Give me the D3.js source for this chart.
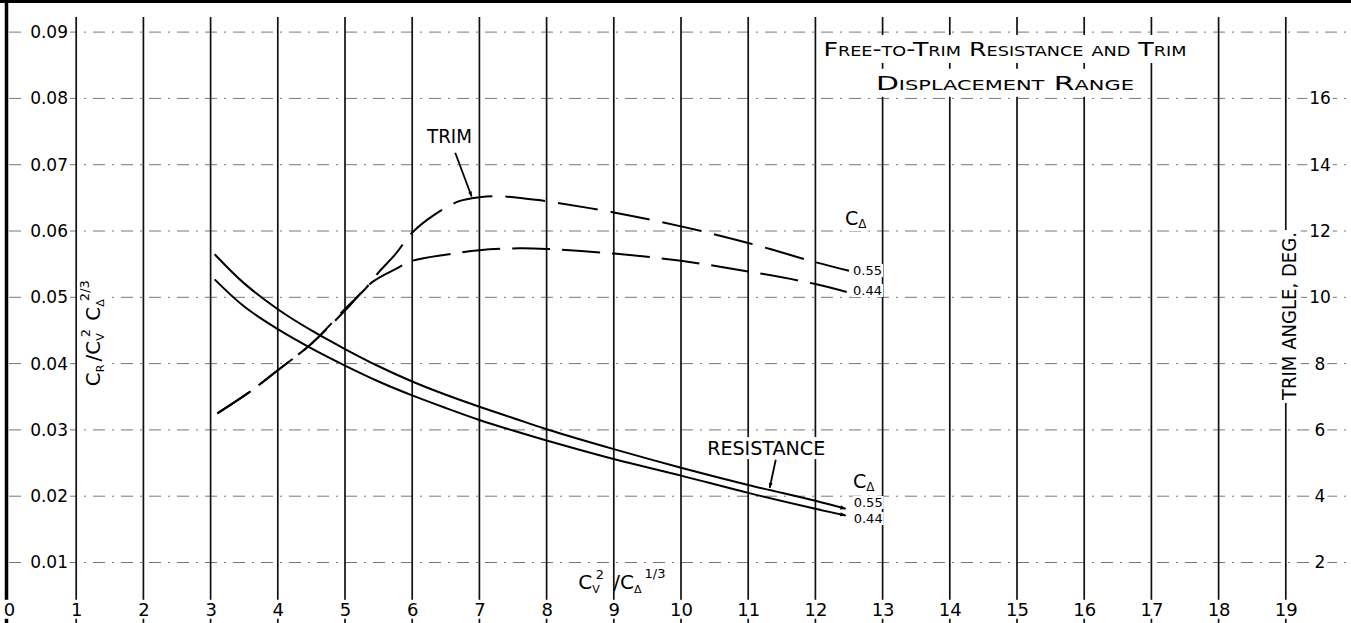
<!DOCTYPE html>
<html><head><meta charset="utf-8">
<script src="https://cdn.jsdelivr.net/npm/d3@7"></script>
<style>
html,body{margin:0;padding:0;background:#fff;overflow:hidden;}
svg{display:block;font-family:"DejaVu Sans",sans-serif;}
</style></head><body>
<svg id="chart" width="1351" height="623"></svg>
<script>
// ---- data ----
const xTicks = d3.range(0, 20);                       // Cv^2 / CΔ^(1/3)
const resTicks = [0.01,0.02,0.03,0.04,0.05,0.06,0.07,0.08,0.09];
const trimTicks = [2,4,6,8,10,12,14,16];               // trim angle, deg

const resX   = [3.06, 3.5, 4, 4.5, 5, 5.5, 6, 6.5, 7, 7.5, 8, 9, 10, 11, 12, 12.45];
const res055 = [0.0565,0.0521,0.0482,0.0450,0.0422,0.0396,0.0373,0.0353,0.0335,0.0318,0.0301,0.0271,0.0243,0.0217,0.0193,0.0181];
const res044 = [0.0527,0.0486,0.0452,0.0423,0.0397,0.0373,0.0352,0.0333,0.0315,0.0299,0.0284,0.0256,0.0231,0.0205,0.0181,0.0171];

const trimX055 = [3.1, 3.55, 4, 4.5, 5, 5.3, 5.5, 5.75, 6, 6.3, 6.7, 7, 7.3, 7.8, 8, 9, 10, 11, 12, 12.5];
const trim055  = [6.5, 7.1, 7.8, 8.6, 9.65, 10.25, 10.75, 11.3, 11.95, 12.45, 12.9, 13.02, 13.05, 12.95, 12.9, 12.56, 12.14, 11.64, 11.06, 10.8];
const trimX044 = [3.1, 3.55, 4, 4.5, 5, 5.4, 5.75, 6, 6.55, 7, 7.6, 8, 9, 10, 11, 12, 12.5];
const trim044  = [6.5, 7.1, 7.8, 8.6, 9.6, 10.45, 10.85, 11.1, 11.3, 11.42, 11.48, 11.46, 11.32, 11.1, 10.78, 10.4, 10.14];

const titleLines = ["Free-to-Trim Resistance and Trim", "Displacement Range"];
const seriesLabels = ["0.55", "0.44"];

// ---- layout ----
const W = 1351, H = 623;
const svg = d3.select("#chart");
const x  = d3.scaleLinear().domain([0, 20]).range([9, 1353]);
const y  = d3.scaleLinear().domain([0, 0.09]).range([628.8, 32.1]);
const yT = d3.scaleLinear().domain([0, 18]).range([628.8, 32.1]);

svg.append("rect").attr("width", W).attr("height", H).attr("fill", "#fff");

// horizontal dash-dot grid
svg.append("g").selectAll("line").data(resTicks).join("line")
  .attr("x1", x(0)).attr("x2", W)
  .attr("y1", d => y(d)).attr("y2", d => y(d))
  .attr("stroke", "#777").attr("stroke-width", 1)
  .attr("stroke-dasharray", "12,7,2,7");

// vertical solid grid
svg.append("g").selectAll("line").data(xTicks.filter(d => d > 0)).join("line")
  .attr("x1", d => x(d)).attr("x2", d => x(d))
  .attr("y1", 17).attr("y2", H)
  .attr("stroke", "#111").attr("stroke-width", 1.7);

// frame
svg.append("line").attr("x1", x(0) - 2.5).attr("x2", x(0) - 2.5).attr("y1", 0).attr("y2", H)
  .attr("stroke", "#000").attr("stroke-width", 3.5);
svg.append("line").attr("x1", 0).attr("x2", W).attr("y1", 1.5).attr("y2", 1.5)
  .attr("stroke", "#000").attr("stroke-width", 3);

// markers
const defs = svg.append("defs");
defs.append("marker").attr("id", "arr").attr("viewBox", "0 0 10 10").attr("refX", 9).attr("refY", 5)
  .attr("markerWidth", 3.5).attr("markerHeight", 3).attr("orient", "auto")
  .attr("markerUnits", "strokeWidth")
  .append("path").attr("d", "M0,1.5 L10,5 L0,8.5 z").attr("fill", "#000");

// curves
const lineR = d3.line().x(d => x(d[0])).y(d => y(d[1])).curve(d3.curveCatmullRom.alpha(0.5));
const lineT = d3.line().x(d => x(d[0])).y(d => yT(d[1])).curve(d3.curveCatmullRom.alpha(0.5));
const curves = svg.append("g").attr("fill", "none").attr("stroke", "#000");
[res055, res044].forEach(arr => {
  curves.append("path").attr("d", lineR(resX.map((v, i) => [v, arr[i]])))
    .attr("stroke-width", 2).attr("marker-end", "url(#arr)");
});
curves.append("path").attr("d", lineT(trimX055.map((v, i) => [v, trim055[i]])))
  .attr("stroke-width", 2).attr("stroke-dasharray", "40,13");
curves.append("path").attr("d", lineT(trimX044.map((v, i) => [v, trim044[i]])))
  .attr("stroke-width", 2).attr("stroke-dasharray", "38,12");

// white box behind each text node
function boxEach(sel, padX, padY) {
  sel.each(function() {
    const bb = this.getBBox();
    const tr = this.getAttribute("transform");
    const r = d3.select(this.parentNode).insert("rect", () => this)
      .attr("x", bb.x - padX).attr("y", bb.y - padY)
      .attr("width", bb.width + 2 * padX).attr("height", bb.height + 2 * padY).attr("fill", "#fff");
    if (tr) r.attr("transform", tr);
  });
}

// left axis
const gl = svg.append("g").attr("transform", `translate(68,0)`)
  .call(d3.axisLeft(y).tickValues(resTicks).tickSize(0).tickPadding(0).tickFormat(d3.format(".2f")));
gl.select(".domain").remove();
gl.selectAll("text").attr("font-size", 17).attr("font-family", "DejaVu Sans").attr("fill", "#000");
boxEach(gl.selectAll("text"), 2, -1);

// bottom axis
const gb = svg.append("g").attr("transform", `translate(0,603)`)
  .call(d3.axisBottom(x).tickValues(xTicks).tickSize(0).tickPadding(0).tickFormat(d3.format("d")));
gb.select(".domain").remove();
gb.selectAll("text").attr("font-size", 18).attr("font-family", "DejaVu Sans").attr("fill", "#000");
boxEach(gb.selectAll("text"), 0, -1);

// right axis
const gr = svg.append("g").attr("transform", `translate(1320,0)`)
  .call(d3.axisRight(yT).tickValues(trimTicks).tickSize(0).tickPadding(0));
gr.select(".domain").remove();
gr.selectAll("text").attr("font-size", 17).attr("text-anchor", "middle").attr("x", 0)
  .attr("font-family", "DejaVu Sans").attr("fill", "#000");
boxEach(gr.selectAll("text"), 2, -1);

// title
const tLen = [363, 258];
const tY = [0.0864, 0.0813];
titleLines.forEach((t, i) => {
  const g = svg.append("g");
  const tx = g.append("text").attr("x", x(14.82)).attr("y", y(tY[i])).attr("text-anchor", "middle")
    .attr("font-size", 20).style("font-variant", "small-caps")
    .attr("textLength", tLen[i]).attr("lengthAdjust", "spacingAndGlyphs").text(t);
  boxEach(tx, 3, 2);
});

// right axis title
const grt = svg.append("g").attr("transform", `translate(${x(19.15)},${yT(6.9)}) rotate(-90)`);
const rtt = grt.append("text").attr("font-size", 19).attr("textLength", 168).attr("lengthAdjust", "spacingAndGlyphs")
  .text("TRIM ANGLE, DEG.");
boxEach(rtt, 2, 1);

// left axis title
const glg = svg.append("g").attr("transform", `translate(${x(1.354)},${y(0.0366)}) rotate(-90)`);
const glt = glg.append("text").attr("font-size", 20);
glt.append("tspan").text("C");
glt.append("tspan").attr("font-size", 11).attr("dy", 4).text("R");
glt.append("tspan").attr("dy", -4).attr("dx", 3).text("/C");
glt.append("tspan").attr("font-size", 11).attr("dy", 4).text("V");
glt.append("tspan").attr("font-size", 13).attr("dy", -14).attr("dx", -4).text("2");
glt.append("tspan").attr("dy", 10).attr("dx", 2).text(" C");
glt.append("tspan").attr("font-size", 11).attr("dy", 4).text("Δ");
glt.append("tspan").attr("font-size", 13).attr("dy", -15).attr("dx", -2).text("2/3");
boxEach(glt, 1, 0);

// x axis title
const gxt = svg.append("text").attr("x", x(8.47)).attr("y", y(0.0060)).attr("font-size", 20);
gxt.append("tspan").text("C");
gxt.append("tspan").attr("font-size", 11).attr("dy", 4).text("V");
gxt.append("tspan").attr("font-size", 13).attr("dy", -14).attr("dx", -4).text("2");
gxt.append("tspan").attr("dy", 10).attr("dx", 3).text(" /C");
gxt.append("tspan").attr("font-size", 11).attr("dy", 4).text("Δ");
gxt.append("tspan").attr("font-size", 13).attr("dy", -15).attr("dx", 3).text("1/3");

// annotations: TRIM
const trimLab = svg.append("text").attr("x", x(6.22)).attr("y", y(0.0733)).attr("font-size", 19)
  .attr("textLength", 45).attr("lengthAdjust", "spacingAndGlyphs").text("TRIM");
boxEach(trimLab, 2, 0);
svg.append("line").attr("x1", x(6.64)).attr("y1", y(0.0718)).attr("x2", x(6.885)).attr("y2", y(0.0652))
  .attr("stroke", "#000").attr("stroke-width", 1.8).attr("marker-end", "url(#arr)");

// RESISTANCE
const resLab = svg.append("text").attr("x", x(10.39)).attr("y", y(0.0262)).attr("font-size", 19)
  .attr("textLength", 118).attr("lengthAdjust", "spacingAndGlyphs").text("RESISTANCE");
boxEach(resLab, 2, 0);
svg.append("line").attr("x1", x(11.41)).attr("y1", y(0.0255)).attr("x2", x(11.32)).attr("y2", y(0.02125))
  .attr("stroke", "#000").attr("stroke-width", 1.8).attr("marker-end", "url(#arr)");

// C_Δ labels
[[12.44, 0.0609], [12.56, 0.02124]].forEach(p => {
  const t = svg.append("text").attr("x", x(p[0])).attr("y", y(p[1])).attr("font-size", 19);
  t.append("tspan").text("C");
  t.append("tspan").attr("font-size", 12).attr("dy", 3).text("Δ");
  boxEach(t, 1, 0);
});

// series value labels
const trimLabY = [10.67, 10.07];
const resLabY = [0.01837, 0.01596];
seriesLabels.forEach((s, i) => {
  boxEach(svg.append("text").attr("x", x(12.56)).attr("y", yT(trimLabY[i])).attr("font-size", 13).text(s), 1, -1);
  boxEach(svg.append("text").attr("x", x(12.57)).attr("y", y(resLabY[i])).attr("font-size", 13).text(s), 1, -1);
});
</script>
</body></html>
